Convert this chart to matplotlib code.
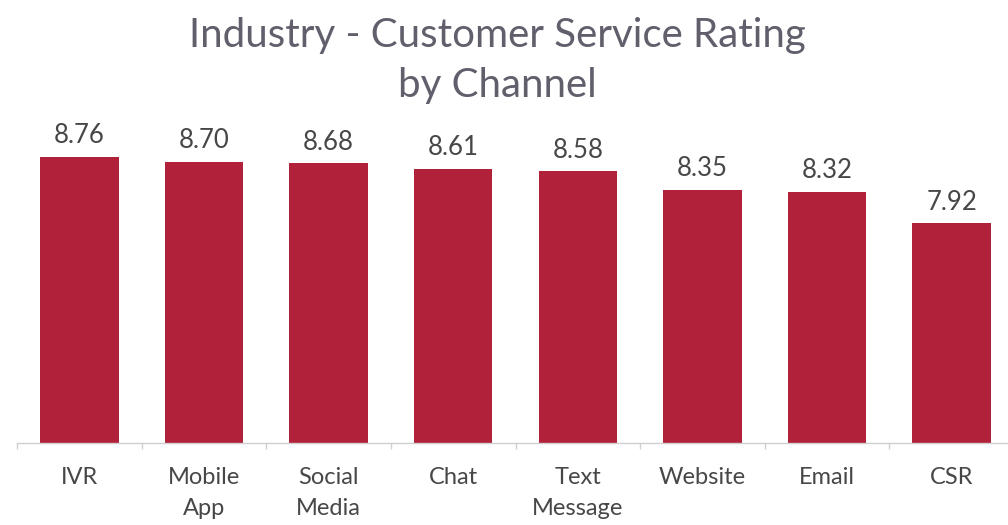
import matplotlib.pyplot as plt
import numpy as np

# ratings by channel
channels = ['IVR', 'Mobile\nApp', 'Social\nMedia', 'Chat', 'Text\nMessage',
            'Website', 'Email', 'CSR']
ratings = [8.76, 8.70, 8.68, 8.61, 8.58, 8.35, 8.32, 7.92]

plt.rcParams['font.family'] = ['Lato', 'DejaVu Sans']

fig = plt.figure(figsize=(10.08, 5.25), dpi=100)
ax = fig.add_axes([17 / 1008, 1 - 443 / 525, 997 / 1008, 443 / 525])

x = np.arange(len(channels))
ax.bar(x, ratings, width=0.63, color='#b2213a', zorder=2)

for xi, v in zip(x, ratings):
    ax.text(xi, v + 0.11, f'{v:.2f}', ha='center', va='bottom',
            fontsize=18.5, color='#474747')

ax.set_xlim(-0.5, len(channels) - 0.5)
ax.set_ylim(5.14, 10.75)
ax.set_yticks([])

ax.set_xticks(x)
ax.set_xticklabels(channels, fontsize=17, color='#474747', linespacing=1.6)
ax.set_xticks(np.arange(len(channels) + 1) - 0.5, minor=True)
ax.tick_params(axis='x', which='major', length=0, pad=17)
ax.tick_params(axis='x', which='minor', length=4, color='#cfcfcf', width=1)

for side in ['top', 'right', 'left']:
    ax.spines[side].set_visible(False)
ax.spines['bottom'].set_color('#cfcfcf')
ax.spines['bottom'].set_linewidth(1)

fig.text(497 / 1008, 1 - 17 / 525,
         'Industry - Customer Service Rating\nby Channel',
         ha='center', va='top', fontsize=29, color='#625e6c', linespacing=1.45)

fig.savefig('out.png', dpi=100)
